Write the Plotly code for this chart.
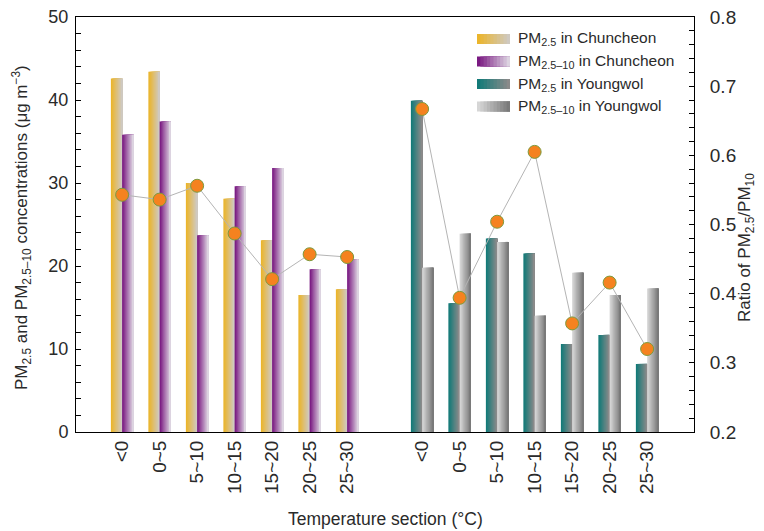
import plotly.graph_objects as go

# ---------------- data ----------------
temp_labels = ["<0", "0~5", "5~10", "10~15", "15~20", "20~25", "25~30"]
chun_x = [0, 1, 2, 3, 4, 5, 6]
young_x = [8, 9, 10, 11, 12, 13, 14]
chun_pm25 = [42.6, 43.4, 30.0, 28.1, 23.1, 16.5, 17.2]
chun_pm2510 = [35.8, 37.4, 23.7, 29.6, 31.8, 19.6, 20.8]
young_pm25 = [39.9, 15.5, 23.3, 21.5, 10.6, 11.7, 8.2]
young_pm2510 = [19.8, 23.9, 22.9, 14.0, 19.2, 16.5, 17.3]
chun_ratio = [0.543, 0.536, 0.556, 0.487, 0.421, 0.457, 0.453]
young_ratio = [0.667, 0.394, 0.504, 0.605, 0.357, 0.416, 0.320]

series_names = ["PM<sub>2.5</sub> in Chuncheon", "PM<sub>2.5\u201310</sub> in Chuncheon",
                "PM<sub>2.5</sub> in Youngwol", "PM<sub>2.5\u201310</sub> in Youngwol"]

FONT = "Liberation Sans, Arial, Helvetica, sans-serif"
TXT = "#2a2a2a"

def hex2rgb(h):
    h = h.lstrip("#")
    return tuple(int(h[i:i + 2], 16) for i in (0, 2, 4))

def mix(c1, c2, t):
    a, b = hex2rgb(c1), hex2rgb(c2)
    return "rgb(%d,%d,%d)" % tuple(round(a[i] + (b[i] - a[i]) * t) for i in range(3))

grads = [("#ebb52c", "#cfc9c0"), ("#7a1a82", "#dcd3e0"),
         ("#137a78", "#8a8a8a"), ("#d6d6d6", "#7a7a7a")]

BW = 0.3
N = 10
fig = go.Figure()

specs = [(chun_x, chun_pm25, -BW, grads[0]),
         (chun_x, chun_pm2510, 0.0, grads[1]),
         (young_x, young_pm25, -BW, grads[2]),
         (young_x, young_pm2510, 0.0, grads[3])]

for xs, ys, base, (c1, c2) in specs:
    for k in range(N):
        fig.add_trace(go.Bar(
            x=xs, y=ys, offset=base + k * BW / N, width=BW * (N - k) / N,
            marker=dict(color=mix(c1, c2, k / (N - 1)), line=dict(width=0)),
            showlegend=False, hoverinfo="skip", yaxis="y"))

for xs, rs in [(chun_x, chun_ratio), (young_x, young_ratio)]:
    fig.add_trace(go.Scatter(
        x=xs, y=rs, mode="lines+markers", yaxis="y2",
        line=dict(color="#b4b4b4", width=1),
        marker=dict(size=13, color="#f5821f", line=dict(color="#7d9a3c", width=1)),
        showlegend=False))

# ---------------- layout geometry (screen pixels; page body has 8px margin) ----------------
OFF = 8
W, H = 764 - OFF, 531 - OFF
L, R, T, B = 76, 694, 17, 432
def px(xp):
    return (xp - L) / (R - L)
def py(yp):
    return (B - yp) / (B - T)

shapes = []
annotations = []
rows_y = [39, 61.5, 84, 106.5]
for i, yy in enumerate(rows_y):
    c1, c2 = grads[i]
    x0, x1 = 477, 510
    for k in range(N):
        shapes.append(dict(type="rect", xref="paper", yref="paper",
                           x0=px(x0 + (x1 - x0) * k / N), x1=px(x1),
                           y0=py(yy + 5), y1=py(yy - 5),
                           fillcolor=mix(c1, c2, k / (N - 1)), line=dict(width=0),
                           layer="above"))
    annotations.append(dict(xref="paper", yref="paper", x=px(516), y=py(yy),
                            xanchor="left", yanchor="middle", showarrow=False,
                            text=series_names[i], font=dict(size=15.5, color=TXT, family=FONT)))

# axis titles as annotations for exact placement
annotations.append(dict(xref="paper", yref="paper", x=px(385), y=py(519),
                        xanchor="center", yanchor="middle", showarrow=False,
                        text="Temperature section (°C)", font=dict(size=17.5, color=TXT, family=FONT)))
annotations.append(dict(xref="paper", yref="paper", x=px(22), y=py(228),
                        xanchor="center", yanchor="middle", showarrow=False, textangle=-90,
                        text="PM<sub>2.5</sub> and PM<sub>2.5\u201310</sub> concentrations (μg m<sup>\u22123</sup>)",
                        font=dict(size=17, color=TXT, family=FONT)))
annotations.append(dict(xref="paper", yref="paper", x=px(746), y=py(248),
                        xanchor="center", yanchor="middle", showarrow=False, textangle=-90,
                        text="Ratio of PM<sub>2.5</sub>/PM<sub>10</sub>",
                        font=dict(size=17, color=TXT, family=FONT)))

fig.update_layout(
    width=W, height=H,
    margin=dict(l=L - OFF, r=764 - R, t=T - OFF, b=531 - B),
    paper_bgcolor="white", plot_bgcolor="white",
    barmode="overlay",
    font=dict(family=FONT, color=TXT, size=16),
    shapes=shapes, annotations=annotations,
    xaxis=dict(range=[-1.23, 15.25], tickmode="array",
               tickvals=chun_x + young_x, ticktext=temp_labels + temp_labels,
               tickangle=-90, showline=True, linecolor="black", linewidth=1,
               mirror=True, ticks="", showgrid=False, zeroline=False,
               tickfont=dict(size=19), automargin=False),
    yaxis=dict(range=[0, 50], dtick=10, ticks="inside", ticklen=5, tickcolor="black",
               showline=True, linecolor="black", linewidth=1, showgrid=False, zeroline=False,
               minor=dict(dtick=2, ticks="inside", ticklen=5, tickcolor="black"),
               tickfont=dict(size=18), ticklabelstandoff=3, automargin=False,
               ticklabeloverflow="allow"),
    yaxis2=dict(range=[0.2, 0.8], dtick=0.1, overlaying="y", side="right",
                ticks="inside", ticklen=5, tickcolor="black", tickformat=".1f",
                showline=True, linecolor="black", linewidth=1, showgrid=False, zeroline=False,
                minor=dict(dtick=0.02, ticks="inside", ticklen=5, tickcolor="black"),
                tickfont=dict(size=19), ticklabelstandoff=11, automargin=False,
                ticklabeloverflow="allow"),
)

fig.write_html("out.html")
